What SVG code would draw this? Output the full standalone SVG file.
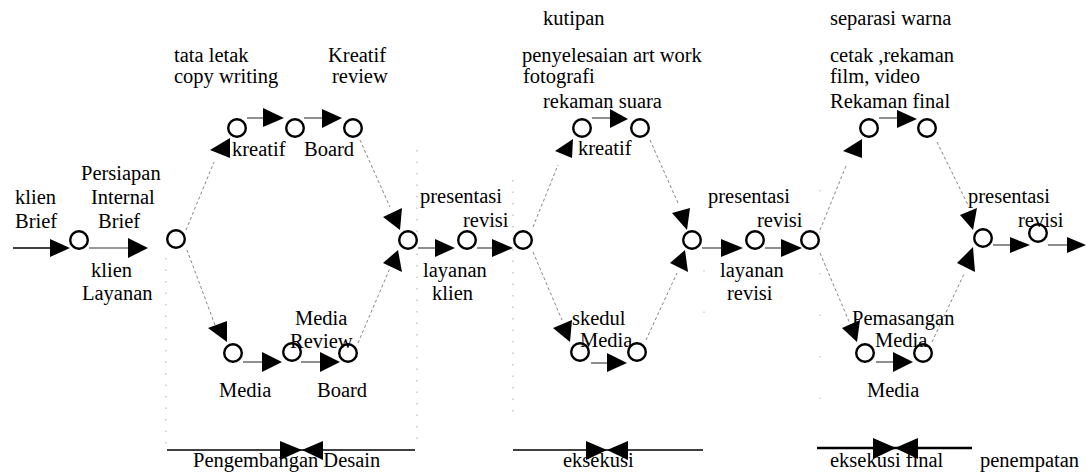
<svg xmlns="http://www.w3.org/2000/svg" width="1087" height="474" viewBox="0 0 1087 474">
<style>
.bg{fill:#fff}
.nd{fill:#fff;stroke:#000;stroke-width:2.4}
.ln{stroke:#333;stroke-width:1.1;fill:none}
.dg{stroke:#777;stroke-width:0.9;stroke-dasharray:3 2.5;fill:none}
.vt{stroke:#aaa;stroke-width:1;stroke-dasharray:1.5 10;fill:none}
.vf{stroke:#bbb;stroke-width:1;stroke-dasharray:1.5 40;fill:none}
.bl{stroke:#000;stroke-width:1.4;fill:none}
.bk{stroke:#000;stroke-width:2.6;fill:none}
.ah{fill:#000}
text{font-family:"Liberation Serif","Times New Roman",serif;font-size:20.5px;fill:#000}
</style>
<rect class="bg" x="0" y="0" width="1087" height="474"/>

<g id="guides">
<line class="vt" x1="166" y1="258" x2="166" y2="445"/>
<line class="vt" x1="417" y1="150" x2="417" y2="445"/>
<line class="vt" x1="513" y1="180" x2="513" y2="420"/>
<line class="vf" x1="704" y1="270" x2="704" y2="350"/>
<line class="vf" x1="820" y1="190" x2="820" y2="425"/>
</g>

<g id="connectors">
<line class="bl" x1="13" y1="248" x2="52" y2="248"/><polygon class="ah" points="50,239 70,248 50,257"/>
<line class="ln" x1="89" y1="248" x2="130" y2="248"/><polygon class="ah" points="128,238 148,248 128,258"/>
<line class="dg" x1="186" y1="230" x2="214" y2="162"/><polygon class="ah" points="210,150 230,138 230,158"/>
<line class="ln" x1="247" y1="118" x2="265" y2="118"/><polygon class="ah" points="263,108 284,118 263,127"/>
<line class="ln" x1="304" y1="118" x2="324" y2="118"/><polygon class="ah" points="322,109 342,118 322,128"/>
<line class="dg" x1="360" y1="140" x2="390" y2="207"/><polygon class="ah" points="383,217 402,208 400,230"/>
<line class="dg" x1="187" y1="250" x2="215" y2="325"/><polygon class="ah" points="208,328 227,321 227,342"/>
<line class="ln" x1="243" y1="362" x2="264" y2="362"/><polygon class="ah" points="262,352 282,362 262,372"/>
<line class="ln" x1="301" y1="362" x2="322" y2="362"/><polygon class="ah" points="320,352 340,362 320,372"/>
<line class="dg" x1="358" y1="343" x2="390" y2="268"/><polygon class="ah" points="383,263 398,250 402,272"/>
<line class="ln" x1="418" y1="248" x2="437" y2="248"/><polygon class="ah" points="435,239 455,248 435,257"/>
<line class="ln" x1="477" y1="248" x2="494" y2="248"/><polygon class="ah" points="492,239 513,248 492,257"/>
<line class="dg" x1="533" y1="227" x2="558" y2="165"/><polygon class="ah" points="555,151 573,139 572,158"/>
<line class="ln" x1="592" y1="118" x2="612" y2="118"/><polygon class="ah" points="610,109 628,119 610,128"/>
<line class="dg" x1="650" y1="140" x2="678" y2="203"/><polygon class="ah" points="672,213 690,208 687,230"/>
<line class="dg" x1="533" y1="252" x2="562" y2="320"/><polygon class="ah" points="553,328 572,320 570,342"/>
<line class="ln" x1="591" y1="363" x2="609" y2="363"/><polygon class="ah" points="607,353 627,363 607,372"/>
<line class="dg" x1="646" y1="340" x2="677" y2="273"/><polygon class="ah" points="670,263 685,250 688,272"/>
<line class="ln" x1="702" y1="248" x2="723" y2="248"/><polygon class="ah" points="721,239 743,248 721,257"/>
<line class="ln" x1="765" y1="248" x2="783" y2="248"/><polygon class="ah" points="781,239 802,248 781,257"/>
<line class="dg" x1="820" y1="230" x2="846" y2="166"/><polygon class="ah" points="843,151 862,139 862,158"/>
<line class="ln" x1="879" y1="118" x2="899" y2="118"/><polygon class="ah" points="897,110 917,119 897,128"/>
<line class="dg" x1="937" y1="142" x2="968" y2="205"/><polygon class="ah" points="960,215 977,208 973,230"/>
<line class="dg" x1="820" y1="253" x2="851" y2="326"/><polygon class="ah" points="842,328 860,320 857,342"/>
<line class="ln" x1="876" y1="362" x2="895" y2="362"/><polygon class="ah" points="893,352 913,362 893,372"/>
<line class="dg" x1="932" y1="342" x2="964" y2="274"/><polygon class="ah" points="957,263 973,247 975,272"/>
<line class="ln" x1="993" y1="245" x2="1012" y2="245"/><polygon class="ah" points="1010,237 1030,245 1010,253"/>
<line class="ln" x1="1048" y1="245" x2="1069" y2="245"/><polygon class="ah" points="1067,237 1086,245 1067,253"/>
</g>

<g id="phases">
<g id="phase-desain">
<line class="bl" x1="167" y1="450" x2="415" y2="450"/>
<polygon class="ah" points="280,441 302,450 280,460"/><polygon class="ah" points="323,441 302,450 323,460"/>
<text x="193" y="467">Pengembangan Desain</text>
</g>
<g id="phase-eksekusi">
<line class="bl" x1="513" y1="450" x2="703" y2="450"/>
<polygon class="ah" points="586,441 607,450 586,460"/><polygon class="ah" points="628,441 607,450 628,460"/>
<text x="563" y="467">eksekusi</text>
</g>
<g id="phase-final">
<line class="bk" x1="817" y1="448" x2="972" y2="448"/>
<polygon class="ah" points="873,438 896,448 873,459"/><polygon class="ah" points="918,438 895,448 918,459"/>
<text x="830" y="467">eksekusi final</text>
<text x="980" y="467">penempatan</text>
</g>
</g>

<g id="n1"><circle class="nd" cx="79" cy="240" r="8.8"/></g>
<g id="n2"><circle class="nd" cx="176" cy="239" r="8.8"/></g>
<g id="u1"><circle class="nd" cx="237" cy="128" r="8.8"/></g>
<g id="u2"><circle class="nd" cx="295" cy="128" r="8.8"/></g>
<g id="u3"><circle class="nd" cx="353" cy="128" r="8.8"/></g>
<g id="l1"><circle class="nd" cx="233" cy="353" r="8.8"/></g>
<g id="l2"><circle class="nd" cx="292" cy="352" r="8.8"/></g>
<g id="l3"><circle class="nd" cx="348" cy="353" r="8.8"/></g>
<g id="m1"><circle class="nd" cx="408" cy="240" r="8.8"/></g>
<g id="m2"><circle class="nd" cx="467" cy="240" r="8.8"/></g>
<g id="m3"><circle class="nd" cx="523" cy="240" r="8.8"/></g>
<g id="u4"><circle class="nd" cx="582" cy="128" r="8.8"/></g>
<g id="u5"><circle class="nd" cx="640" cy="128" r="8.8"/></g>
<g id="l4"><circle class="nd" cx="580" cy="352" r="8.8"/></g>
<g id="l5"><circle class="nd" cx="637" cy="352" r="8.8"/></g>
<g id="m4"><circle class="nd" cx="692" cy="240" r="8.8"/></g>
<g id="m5"><circle class="nd" cx="755" cy="240" r="8.8"/></g>
<g id="m6"><circle class="nd" cx="810" cy="240" r="8.8"/></g>
<g id="u6"><circle class="nd" cx="869" cy="128" r="8.8"/></g>
<g id="u7"><circle class="nd" cx="927" cy="128" r="8.8"/></g>
<g id="l6"><circle class="nd" cx="865" cy="353" r="8.8"/></g>
<g id="l7"><circle class="nd" cx="923" cy="353" r="8.8"/></g>
<g id="m7"><circle class="nd" cx="983" cy="238" r="8.8"/></g>
<g id="m8"><circle class="nd" cx="1038" cy="233" r="8.8"/></g>

<g id="labels">
<text x="15" y="204">klien</text><text x="15" y="228">Brief</text>
<text x="81" y="180">Persiapan</text><text x="91" y="204">Internal</text><text x="98" y="228">Brief</text>
<text x="91" y="277">klien</text><text x="82" y="300">Layanan</text>
<text x="174" y="62">tata letak</text><text x="174" y="83">copy writing</text>
<text x="328" y="62">Kreatif</text><text x="332" y="83">review</text>
<text x="232" y="156">kreatif</text><text x="304" y="156">Board</text>
<text x="295" y="325">Media</text><text x="290" y="348">Review</text>
<text x="219" y="397">Media</text><text x="317" y="397">Board</text>
<text x="420" y="203">presentasi</text><text x="463" y="227">revisi</text>
<text x="423" y="277">layanan</text><text x="432" y="300">klien</text>
<text x="543" y="25">kutipan</text>
<text x="522" y="62">penyelesaian art work</text><text x="523" y="83">fotografi</text>
<text x="543" y="108">rekaman suara</text>
<text x="578" y="155">kreatif</text>
<text x="572" y="325">skedul</text><text x="580" y="347">Media</text>
<text x="708" y="203">presentasi</text><text x="757" y="227">revisi</text>
<text x="720" y="277">layanan</text><text x="727" y="300">revisi</text>
<text x="830" y="25">separasi warna</text>
<text x="830" y="62">cetak ,rekaman</text><text x="830" y="83">film, video</text>
<text x="830" y="108">Rekaman final</text>
<text x="852" y="325">Pemasangan</text><text x="875" y="347">Media</text>
<text x="867" y="397">Media</text>
<text x="968" y="203">presentasi</text><text x="1018" y="227">revisi</text>
</g>
</svg>
